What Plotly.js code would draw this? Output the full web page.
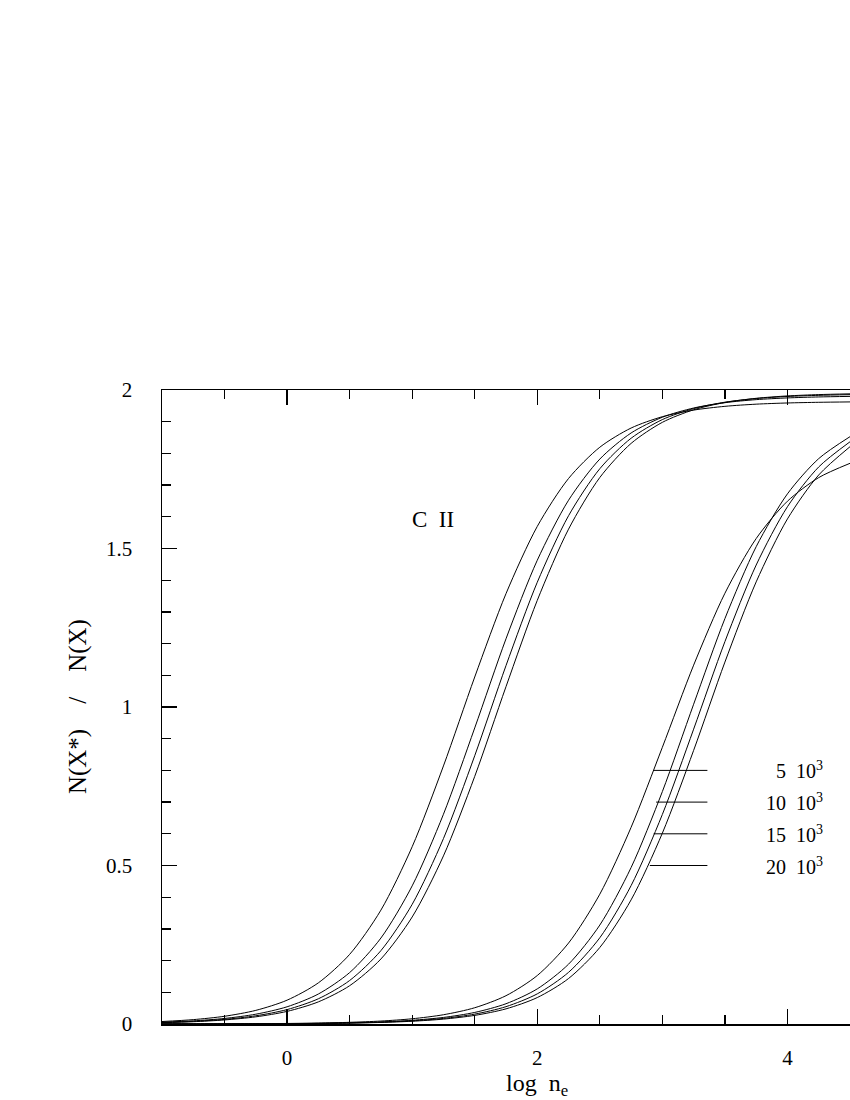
<!DOCTYPE html>
<html>
<head>
<meta charset="utf-8">
<script src="https://cdn.plot.ly/plotly-3.0.1.min.js"></script>
<style>
html,body{margin:0;padding:0;background:#fff;overflow:hidden;}
#chart{width:850px;height:1100px;}
</style>
</head>
<body>
<div id="chart"></div>
<script>
// log n_e grid
const logNe = [-1,-0.75,-0.5,-0.25,0,0.25,0.5,0.75,1,1.25,1.5,1.75,2,2.25,2.5,2.75,3,3.25,3.5,3.75,4,4.25,4.5];

// left family (4 temperatures)
const left5  = [0.0078,0.0138,0.0244,0.0430,0.0752,0.1298,0.2196,0.3593,0.5592,0.8141,1.0946,1.3576,1.5697,1.7209,1.8195,1.8800,1.9158,1.9366,1.9485,1.9553,1.9591,1.9612,1.9624];
const left10 = [0.0056,0.0099,0.0175,0.0309,0.0543,0.0946,0.1622,0.2712,0.4358,0.6617,0.9340,1.2152,1.4629,1.6523,1.7821,1.8644,1.9141,1.9432,1.9600,1.9696,1.9750,1.9781,1.9798];
const left15 = [0.0046,0.0083,0.0146,0.0259,0.0455,0.0796,0.1372,0.2315,0.3775,0.5849,0.8463,1.1306,1.3935,1.6034,1.7517,1.8478,1.9067,1.9414,1.9615,1.9730,1.9796,1.9832,1.9853];
const left20 = [0.0041,0.0072,0.0128,0.0226,0.0398,0.0698,0.1208,0.2051,0.3376,0.5303,0.7811,1.0642,1.3364,1.5611,1.7240,1.8315,1.8980,1.9376,1.9606,1.9738,1.9813,1.9855,1.9879];

// right family (4 temperatures)
const right5  = [0.0002,0.0003,0.0005,0.0009,0.0017,0.0030,0.0053,0.0093,0.0165,0.0292,0.0513,0.0893,0.1529,0.2554,0.4096,0.6204,0.8729,1.1320,1.3588,1.5314,1.6492,1.7237,1.7687];
const right10 = [0.0001,0.0002,0.0004,0.0007,0.0012,0.0021,0.0037,0.0066,0.0117,0.0207,0.0365,0.0639,0.1108,0.1887,0.3121,0.4935,0.7332,1.0087,1.2789,1.5057,1.6724,1.7836,1.8528];
const right15 = [0.0001,0.0002,0.0003,0.0006,0.0010,0.0018,0.0032,0.0056,0.0100,0.0176,0.0311,0.0547,0.0951,0.1630,0.2721,0.4365,0.6611,0.9301,1.2062,1.4479,1.6318,1.7573,1.8367];
const right20 = [0.0001,0.0002,0.0003,0.0005,0.0009,0.0015,0.0028,0.0049,0.0087,0.0154,0.0272,0.0478,0.0834,0.1435,0.2414,0.3915,0.6021,0.8632,1.1417,1.3947,1.5933,1.7320,1.8211];

// key
const NB = "\u00A0";
const keyLabels = ["5"+NB+NB+"10<sup>3</sup>","10"+NB+NB+"10<sup>3</sup>","15"+NB+NB+"10<sup>3</sup>","20"+NB+NB+"10<sup>3</sup>"];
const keyY = [0.8, 0.7, 0.6, 0.5];
const keyX0 = [2.93, 2.95, 2.93, 2.90];
const keyX1 = 3.36;
const keyTextX = 4.30;

const FONT = "Liberation Serif, DejaVu Serif, serif";
const curves = [left5,left10,left15,left20,right5,right10,right15,right20];
const traces = curves.map(ys => ({
  x: logNe, y: ys, type: 'scatter', mode: 'lines',
  line: {color: '#000', width: 1, shape: 'spline', smoothing: 0.8},
  hoverinfo: 'skip', showlegend: false
}));
keyY.forEach((yv, i) => {
  traces.push({x: [keyX0[i], keyX1], y: [yv, yv], type: 'scatter', mode: 'lines',
    line: {color: '#000', width: 1}, hoverinfo: 'skip', showlegend: false});
});

const annotations = keyLabels.map((t, i) => ({
  x: keyTextX, y: keyY[i], xref: 'x', yref: 'y', text: t, showarrow: false,
  xanchor: 'right', yanchor: 'middle', font: {family: FONT, size: 20, color: '#000'}
}));
annotations.push({x: 1.17, y: 1.59, xref: 'x', yref: 'y', text: 'C'+NB+NB+'II', showarrow: false,
  xanchor: 'center', yanchor: 'middle', font: {family: FONT, size: 23, color: '#000'}});
annotations.push({x: -0.122, y: 0.5, xref: 'paper', yref: 'paper',
  text: 'N(X*)'+NB+NB+NB+NB+'/'+NB+NB+NB+NB+'N(X)',
  textangle: -90, showarrow: false, xanchor: 'center', yanchor: 'middle',
  font: {family: FONT, size: 25, color: '#000'}});
annotations.push({x: 0.545, y: -0.096, xref: 'paper', yref: 'paper', text: 'log'+NB+NB+'n<sub>e</sub>',
  showarrow: false, xanchor: 'center', yanchor: 'middle',
  font: {family: FONT, size: 24, color: '#000'}});

const layout = {
  width: 850, height: 1100,
  margin: {l: 162, r: 0, t: 390, b: 76},
  paper_bgcolor: '#fff', plot_bgcolor: '#fff',
  showlegend: false,
  font: {family: FONT, size: 21, color: '#000'},
  xaxis: {
    range: [-1, 4.5], tick0: 0, dtick: 2, ticks: 'inside', ticklen: 15, tickwidth: 1.3,
    tickcolor: '#000', showline: true, linecolor: '#000', linewidth: 1.5, mirror: 'ticks',
    showgrid: false, zeroline: false, ticklabelstandoff: 14,
    minor: {dtick: 0.5, tick0: 0, ticks: 'inside', ticklen: 9, tickwidth: 1.3, tickcolor: '#000', showgrid: false},
    tickfont: {family: FONT, size: 21, color: '#000'}
  },
  yaxis: {
    range: [0, 2], tick0: 0, dtick: 0.5, ticks: 'inside', ticklen: 15, tickwidth: 1.3,
    tickcolor: '#000', showline: true, linecolor: '#000', linewidth: 1.5, mirror: false,
    showgrid: false, zeroline: false, ticklabelstandoff: 24,
    minor: {dtick: 0.1, tick0: 0, ticks: 'inside', ticklen: 9, tickwidth: 1.3, tickcolor: '#000', showgrid: false},
    tickfont: {family: FONT, size: 21, color: '#000'}
  },
  annotations: annotations
};

Plotly.newPlot('chart', traces, layout, {staticPlot: true, displayModeBar: false});
</script>
</body>
</html>
